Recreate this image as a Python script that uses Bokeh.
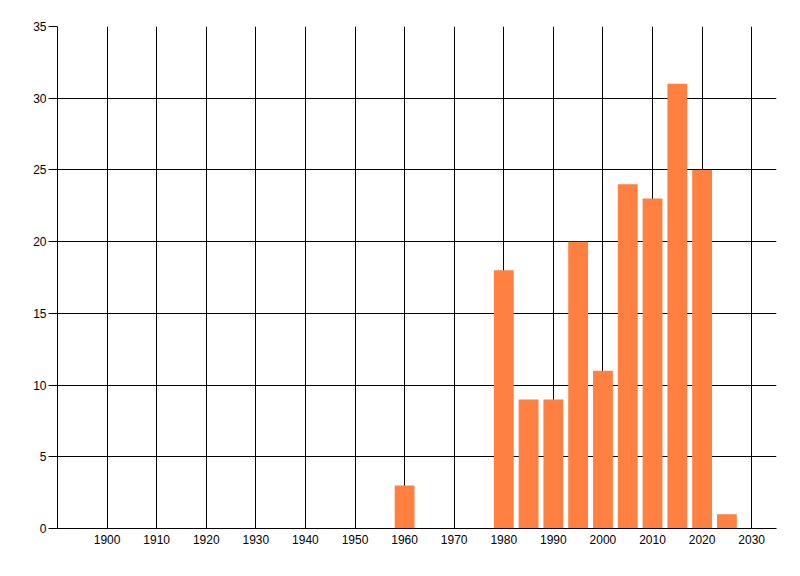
from bokeh.plotting import figure
from bokeh.models import FixedTicker, ColumnDataSource
from bokeh.embed import file_html
from bokeh.resources import INLINE

years = [1960, 1980, 1985, 1990, 1995, 2000, 2005, 2010, 2015, 2020, 2025]
counts = [3, 18, 9, 9, 20, 11, 24, 23, 31, 25, 1]
x_ticks = list(range(1900, 2031, 10))
y_ticks = list(range(0, 36, 5))

src = ColumnDataSource(data=dict(x=years, top=counts))

p = figure(width=784, height=560, output_backend="svg", toolbar_location=None,
           x_range=(1890, 2035), y_range=(0, 35),
           min_border_left=57, min_border_right=8, min_border_top=26, min_border_bottom=32)
p.frame_width = 719
p.frame_height = 502

p.vbar(x="x", top="top", width=4, bottom=0, source=src, color="#FF8040", line_color=None)

p.outline_line_color = None
p.background_fill_color = "white"
p.border_fill_color = "white"

p.xaxis.ticker = FixedTicker(ticks=x_ticks)
p.yaxis.ticker = FixedTicker(ticks=y_ticks)
p.xgrid.ticker = FixedTicker(ticks=x_ticks)
p.ygrid.ticker = FixedTicker(ticks=y_ticks)

for g in (p.xgrid, p.ygrid):
    g.grid_line_color = "black"
    g.grid_line_width = 1
    g.grid_line_alpha = 1.0

for ax in (p.xaxis, p.yaxis):
    ax.axis_line_color = "black"
    ax.axis_line_width = 1
    ax.major_label_text_font = "Liberation Sans"
    ax.major_label_text_font_size = "12px"
    ax.major_label_text_color = "black"
    ax.minor_tick_line_color = None
    ax.major_tick_in = 0

p.yaxis.major_tick_out = 9
p.yaxis.major_tick_line_color = "black"
p.yaxis.major_label_standoff = 2
p.xaxis.major_tick_out = 0
p.xaxis.major_tick_line_color = None
p.xaxis.major_label_standoff = 6

open("out.html", "w").write(file_html(p, INLINE))
